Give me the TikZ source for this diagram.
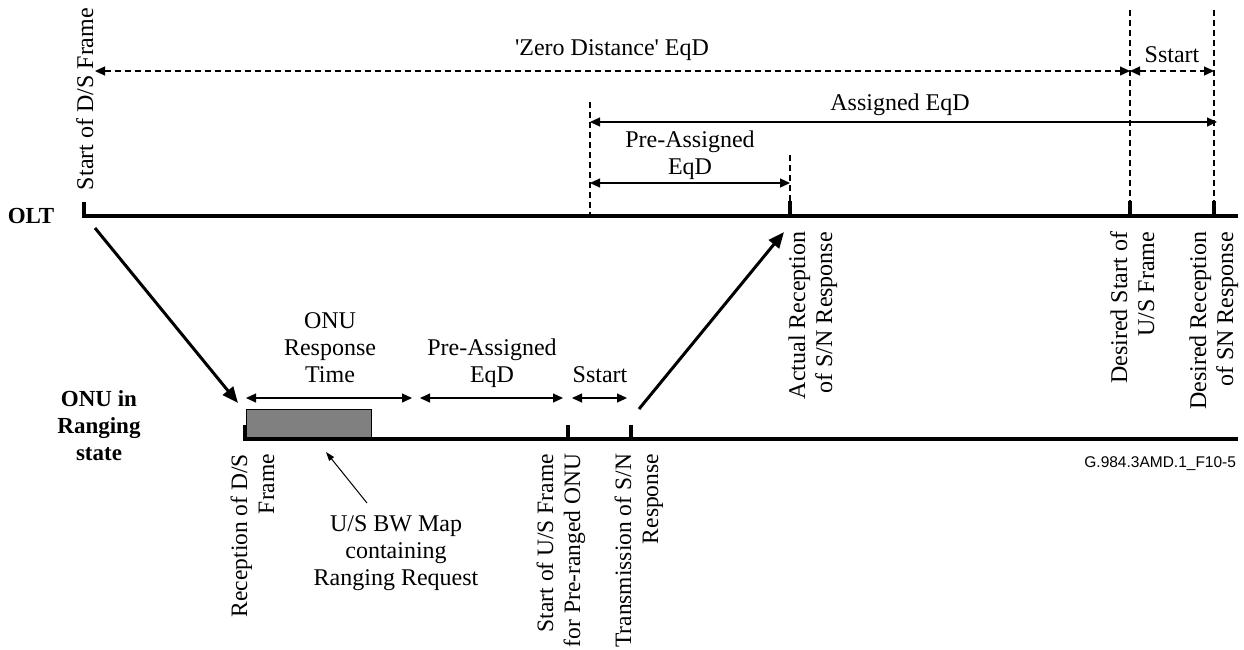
\documentclass[tikz,border=0pt]{standalone}
\usepackage{fontspec}
\setmainfont{Liberation Serif}[Ligatures=TeXOff]
\newfontfamily\figsans{Liberation Sans}
\usetikzlibrary{arrows.meta}

\begin{document}
\begin{tikzpicture}[x=1pt,y=-1pt,
  every node/.style={inner sep=0pt, outer sep=0pt, font=\fontsize{24}{27}\selectfont},
  txt/.style={align=center, anchor=base},
  vlabel/.style={rotate=90, align=right, anchor=base east},
  lowlabel/.style={vlabel, font=\fontsize{23.5}{27}\selectfont},
  heading/.style={align=center, anchor=base, font=\fontsize{23}{27}\selectfont\bfseries},
  axis/.style={line width=3.8pt, line join=miter},
  tickmark/.style={line width=4.5pt},
  guide/.style={line width=1.1pt, dash pattern=on 6pt off 4pt},
  dim/.style={line width=1.2pt, {Triangle[length=10pt,width=9pt]}-{Triangle[length=10pt,width=9pt]}},
  ddim/.style={dim, dash pattern=on 6pt off 4pt},
  signal/.style={line width=3pt, -{Triangle[length=16pt,width=13pt]}},
  pointer/.style={line width=1pt, -{Triangle[length=9pt,width=6pt]}},
  mapbox/.style={draw=black, line width=0.9pt, fill=black!50},
]
\useasboundingbox (0,0) rectangle (1244,649);

% ---- time axes -------------------------------------------------------
\coordinate (oltStart) at (84,216);
\coordinate (oltEnd)   at (1238,216);
\coordinate (onuStart) at (245,439);
\coordinate (onuEnd)   at (1238,439);
\draw[axis] (84,202) -- (oltStart) -- (oltEnd);
\draw[axis] (245,425) -- (onuStart) -- (onuEnd);

% events on the OLT axis
\coordinate (actRx)  at (790,216);
\coordinate (desUS)  at (1130,216);
\coordinate (desRx)  at (1214,216);
\foreach \c in {actRx,desUS,desRx}
  \draw[tickmark] (\c) -- ++(0,-15);

% events on the ONU axis
\coordinate (usFrame) at (568,439);
\coordinate (txSN)    at (631,439);
\foreach \c in {usFrame,txSN}
  \draw[tickmark] (\c) -- ++(0,-14);

% upstream bandwidth map burst
\draw[mapbox] (246,409) rectangle (371,437);

% ---- dashed guide lines ----------------------------------------------
\coordinate (preRef) at (590,216);
\draw[guide] (590,102) -- (preRef);
\draw[guide] (790,155) -- (790,201);
\draw[guide] (1130,10) -- (1130,201);
\draw[guide] (1214,10) -- (1214,201);

% ---- intervals on the OLT side ---------------------------------------
\coordinate (zL) at (95,71);
\coordinate (zR) at (1130,71);
\coordinate (sR) at (1214,71);
\draw[ddim] (zL) -- (zR);
\draw[ddim] (zR) -- (sR);
\node[txt] (zeroLbl) at (612,55) {'Zero Distance' EqD};
\node[txt] (sstartTop) at (1172,62) {Sstart};

\coordinate (aL) at (590,122);
\coordinate (aR) at (1217,122);
\draw[dim] (aL) -- (aR);
\node[txt] (assignedLbl) at (900,110) {Assigned EqD};

\coordinate (pL) at (590,183);
\coordinate (pR) at (790,183);
\draw[dim] (pL) -- (pR);
\node[txt] (preTop) at (690,174) {Pre-Assigned\\EqD};

% ---- intervals on the ONU side ---------------------------------------
\coordinate (r1L) at (246,398);
\coordinate (r1R) at (412,398);
\coordinate (r2L) at (420,398);
\coordinate (r2R) at (563,398);
\coordinate (r3L) at (572,398);
\coordinate (r3R) at (627,398);
\draw[dim] (r1L) -- (r1R);
\draw[dim] (r2L) -- (r2R);
\draw[dim] (r3L) -- (r3R);
\node[txt] (respLbl) at (330,382) {ONU\\Response\\Time};
\node[txt] (preBot) at (492,382) {Pre-Assigned\\EqD};
\node[txt] (sstartBot) at (600,382) {Sstart};

% ---- frame transfer between OLT and ONU ------------------------------
\coordinate (dsOut) at (95,228);
\coordinate (dsIn)  at (238,403);
\coordinate (usOut) at (639,409);
\coordinate (usIn)  at (784,232);
\draw[signal] (dsOut) -- (dsIn);
\draw[signal] (usOut) -- (usIn);

% ---- row headings ----------------------------------------------------
\node[heading] (olt) at (31,223) {OLT};
\node[heading] (onu) at (99,460) {ONU in\\Ranging\\state};

% ---- event labels ----------------------------------------------------
\node[rotate=90, anchor=base west] (dsStart) at (93,190) {Start of D/S Frame};
\node[lowlabel] (rxDS)   at (274,454) {Reception of D/S\\Frame};
\node[lowlabel] (usLbl)  at (580,454) {Start of U/S Frame\\for Pre-ranged ONU};
\node[lowlabel] (txLbl)  at (658,454) {Transmission of S/N\\Response};
\node[vlabel] (actLbl) at (832,232) {Actual Reception\\of S/N Response};
\node[vlabel] (desUSLbl) at (1154,232) {Desired Start of\\U/S Frame};
\node[vlabel] (desRxLbl) at (1233,232) {Desired Reception\\of SN Response};

\node[txt] (mapLbl) at (396,585) {U/S BW Map\\containing\\Ranging Request};
\coordinate (mapTail) at (367,503);
\coordinate (mapHead) at (326,452);
\draw[pointer] (mapTail) -- (mapHead);

\node[anchor=base east, font=\figsans\fontsize{15.5}{18}\selectfont] (figId) at (1236,467) {G.984.3AMD.1\_F10-5};
\end{tikzpicture}
\end{document}
